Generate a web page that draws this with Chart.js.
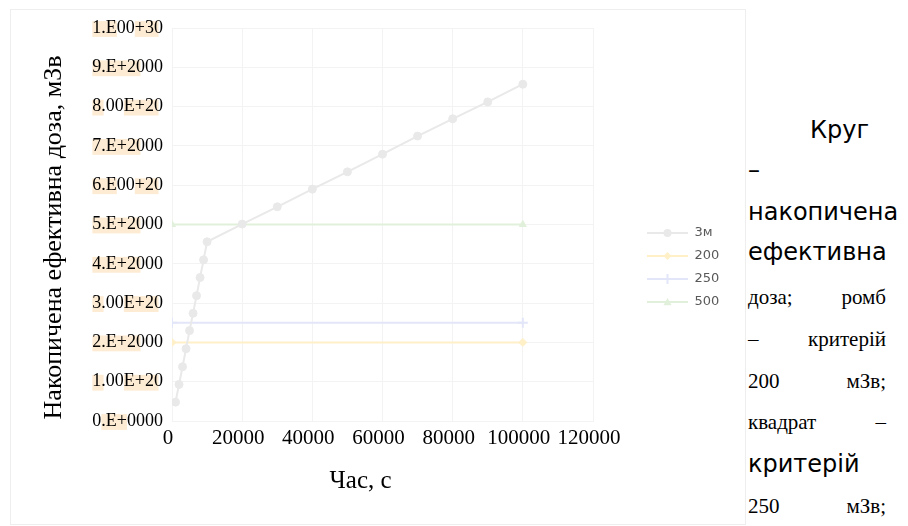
<!DOCTYPE html>
<html>
<head>
<meta charset="utf-8">
<script src="https://cdn.jsdelivr.net/npm/chart.js@4.4.1/dist/chart.umd.min.js"></script>
<style>
  html, body { margin: 0; padding: 0; background: #ffffff; }
  #page { position: relative; width: 908px; height: 526px; overflow: hidden; background: #ffffff; }
  #frame { position: absolute; left: 10px; top: 9px; width: 734px; height: 514px; border: 1px solid #eeeeee; }
  #wrap { position: absolute; left: 0; top: 0; width: 745px; height: 526px; }
  .note { position: absolute; left: 748px; height: 30px; line-height: 30px; white-space: nowrap;
          display: flex; justify-content: space-between; color: #000000; }
  .sans { font-family: "DejaVu Sans"; font-size: 24px; }
  .serif { font-family: "Liberation Serif"; font-size: 21px; width: 138px; }
</style>
</head>
<body>
<div id="page">
  <div id="frame"></div>
  <div id="wrap"><canvas id="chart" width="745" height="526"></canvas></div>

  <div class="note sans" style="left:810px; top:115px;"><span>Круг</span></div>
  <div class="note sans" style="top:155px;"><span>–</span></div>
  <div class="note sans" style="top:197px;"><span>накопичена</span></div>
  <div class="note sans" style="top:237px;"><span>ефективна</span></div>
  <div class="note serif" style="top:282px;"><span>доза;</span><span>ромб</span></div>
  <div class="note serif" style="top:324px;"><span>–</span><span>критерій</span></div>
  <div class="note serif" style="top:366px;"><span>200</span><span>мЗв;</span></div>
  <div class="note serif" style="top:407px;"><span>квадрат</span><span>–</span></div>
  <div class="note sans" style="top:449px;"><span>критерій</span></div>
  <div class="note serif" style="top:491px;"><span>250</span><span>мЗв;</span></div>
</div>

<script>
// Accumulated effective dose over time
const timeSeconds = [1000, 2000, 3000, 4000, 5000, 6000, 7000, 8000, 9000, 10000,
                     20000, 30000, 40000, 50000, 60000, 70000, 80000, 90000, 100000];
const doseMSv = [48, 93, 138, 184, 230, 274, 319, 365, 410, 456,
                 501, 545, 590, 634, 679, 725, 769, 812, 857];

// Dose criteria, drawn across the time range
const criterionTimes = [0, 100000];
const criterion200 = [200, 200];
const criterion250 = [250, 250];
const criterion500 = [500, 500];

const seriesNames = ['3м', '200', '250', '500'];

const xTickLabels = ['0', '20000', '40000', '60000', '80000', '100000', '120000'];
const yTickLabels = ['0.E+0000', '1.00E+20', '2.E+2000', '3.00E+20', '4.E+2000', '5.E+2000',
                     '6.E00+20', '7.E+2000', '8.00E+20', '9.E+2000', '1.E00+30'];

// character ranges of each y tick label that carry a text highlight
const tickHighlightSpans = [
  [[1, 4]], [[0, 1.5], [4, 7.5]], [[0, 5.5]], [[0, 1.5], [4, 7.5]], [[0, 5.5]], [[0, 5.5]],
  [[0, 3], [5, 7.5]], [[0, 5.5]], [[0, 1.5], [4, 7.5]], [[0, 5.5]], [[0, 3], [5, 7.5]]
];

const COLORS = ['#e9e9e9', '#fff0c8', '#e3e6f8', '#e1f0da'];
const MARKERS = ['circle', 'rectRot', 'cross', 'triangle'];

function toPoints(xs, ys) {
  return xs.map((x, i) => ({ x: x, y: ys[i] }));
}

// legend swatch: a short line with the series marker in its middle
function legendSwatch(color, style) {
  const c = document.createElement('canvas');
  c.width = 85; c.height = 12;
  const g = c.getContext('2d');
  g.strokeStyle = color; g.fillStyle = color; g.lineWidth = 2;
  g.beginPath(); g.moveTo(44, 6); g.lineTo(85, 6); g.stroke();
  const cx = 64.5, cy = 6, r = 4;
  g.beginPath();
  if (style === 'circle') {
    g.arc(cx, cy, r, 0, Math.PI * 2); g.fill();
  } else if (style === 'rectRot') {
    g.moveTo(cx, cy - r); g.lineTo(cx + r, cy); g.lineTo(cx, cy + r); g.lineTo(cx - r, cy); g.closePath(); g.fill();
  } else if (style === 'cross') {
    g.moveTo(cx, cy - r - 1); g.lineTo(cx, cy + r + 1); g.stroke();
  } else {
    g.moveTo(cx, cy - r); g.lineTo(cx + r, cy + r * 0.8); g.lineTo(cx - r, cy + r * 0.8); g.closePath(); g.fill();
  }
  return c;
}
const swatches = COLORS.map((c, i) => legendSwatch(c, MARKERS[i]));

// beige text highlight behind parts of the y tick labels
const tickHighlighter = {
  id: 'tickHighlighter',
  beforeDraw(chart) {
    const scale = chart.scales.y;
    const items = scale.getLabelItems(chart.chartArea);
    const ctx = chart.ctx;
    ctx.save();
    items.forEach((item, i) => {
      const spans = tickHighlightSpans[i];
      if (!spans) return;
      ctx.font = item.font.string;
      const label = String(item.label);
      const [tx, ty] = item.options.translation;
      const full = ctx.measureText(label).width;
      const start = tx - full;
      const size = item.font.size;
      const h = size * 0.88;
      ctx.fillStyle = '#fdebd3';
      spans.forEach(([a, b]) => {
        const wa = ctx.measureText(label.slice(0, Math.floor(a))).width +
          (a % 1 ? (a % 1) * ctx.measureText(label.charAt(Math.floor(a))).width : 0);
        const wb = ctx.measureText(label.slice(0, Math.floor(b))).width +
          (b % 1 ? (b % 1) * ctx.measureText(label.charAt(Math.floor(b))).width : 0);
        ctx.fillRect(start + wa, ty - h / 2 + 1, wb - wa, h);
      });
    });
    ctx.restore();
  }
};

const serif = 'Liberation Serif';
const gridColor = '#f3f3f3';

new Chart(document.getElementById('chart'), {
  type: 'line',
  data: {
    datasets: [
      { label: seriesNames[0], data: toPoints(timeSeconds, doseMSv) },
      { label: seriesNames[1], data: toPoints(criterionTimes, criterion200) },
      { label: seriesNames[2], data: toPoints(criterionTimes, criterion250) },
      { label: seriesNames[3], data: toPoints(criterionTimes, criterion500) }
    ].map((d, i) => Object.assign(d, {
      borderColor: COLORS[i],
      backgroundColor: COLORS[i],
      pointStyle: MARKERS[i],
      pointRadius: i === 2 ? 5 : 4,
      pointBorderWidth: i === 2 ? 2 : 1,
      borderWidth: 2,
      tension: 0,
      fill: false
    }))
  },
  options: {
    responsive: false,
    animation: false,
    layout: { padding: { top: 28, left: 0, right: 0, bottom: 19 } },
    plugins: {
      tooltip: { enabled: false },
      legend: {
        position: 'right',
        align: 'center',
        labels: {
          usePointStyle: true,
          pointStyleWidth: 85,
          padding: 10,
          color: '#595959',
          font: { family: 'DejaVu Sans', size: 13 },
          generateLabels(chart) {
            const items = Chart.defaults.plugins.legend.labels.generateLabels(chart);
            items.forEach((it, i) => { it.pointStyle = swatches[i]; });
            return items;
          }
        }
      }
    },
    scales: {
      x: {
        type: 'linear',
        min: 0,
        max: 120000,
        afterFit(s) { s.height = 86; s.paddingRight = 152; },
        ticks: {
          stepSize: 20000,
          autoSkip: false,
          maxRotation: 0,
          padding: 5,
          labelOffset: -4,
          color: '#000000',
          font: { family: serif, size: 21 },
          callback: (v, i) => xTickLabels[i]
        },
        grid: { color: gridColor, drawTicks: false },
        border: { color: gridColor },
        title: {
          display: true,
          text: 'Час, с       ',
          color: '#000000',
          font: { family: serif, size: 25 },
          padding: { top: 0, bottom: 11 }
        }
      },
      y: {
        min: 0,
        max: 1000,
        afterFit(s) { s.width = 172; },
        ticks: {
          stepSize: 100,
          padding: 9,
          color: '#000000',
          font: { family: serif, size: 18 },
          callback: (v, i) => yTickLabels[i]
        },
        grid: { color: gridColor, drawTicks: false },
        border: { color: gridColor },
        title: {
          display: true,
          text: 'Накопичена ефективна доза, мЗв    ',
          color: '#000000',
          font: { family: serif, size: 26 },
          padding: { top: 39, bottom: 0 }
        }
      }
    }
  },
  plugins: [tickHighlighter]
});
</script>
</body>
</html>
